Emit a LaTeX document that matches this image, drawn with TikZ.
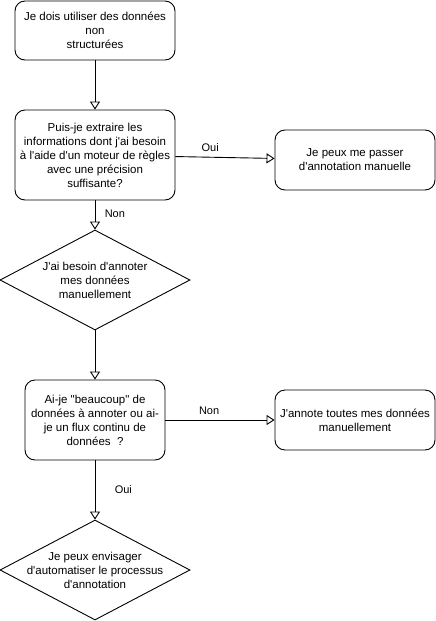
\documentclass[tikz,border=0pt]{standalone}
\usepackage{fontspec}
\newfontfamily\lib{Liberation Sans}
\usetikzlibrary{shapes.geometric,arrows.meta}
\begin{document}
\begin{tikzpicture}[x=1pt,y=-1pt,
  every node/.style={font=\lib\fontsize{11.5}{14}\selectfont},
  box/.style={draw,line width=0.9pt,rounded corners=10pt,align=center,inner sep=0pt},
  dia/.style={draw,line width=0.9pt,diamond,inner sep=0pt,minimum width=190pt,minimum height=100pt,aspect=1.9},
  lbl/.style={font=\lib\fontsize{11}{13}\selectfont},
  arr/.style={line width=0.9pt,-{Triangle[open,length=8pt,width=10pt]}}]
\useasboundingbox (0,0) rectangle (436,621);
\node[box,minimum width=160pt,minimum height=59pt] (b1) at (95,30.5) {Je dois utiliser des données\\non\\structurées};
\node[box,minimum width=160pt,minimum height=90pt] (b2) at (95,155) {Puis-je extraire les\\informations dont j'ai besoin\\à l'aide d'un moteur de règles\\avec une précision\\suffisante?};
\node[box,minimum width=160pt,minimum height=60pt] (r1) at (355,160) {Je peux me passer\\d'annotation manuelle};
\node[dia] (d1) at (95,280) {};
\node[align=center] (t1) at (d1.center) {J'ai besoin d'annoter\\mes données\\manuellement};
\node[box,minimum width=140pt,minimum height=80pt] (b3) at (95,420) {Ai-je "beaucoup" de\\données à annoter ou ai-\\je un flux continu de\\données \ ?};
\node[box,minimum width=160pt,minimum height=60pt] (r2) at (355,420) {J'annote toutes mes données\\manuellement};
\node[dia] (d2) at (95,570) {};
\node[align=center] (t2) at (d2.center) {Je peux envisager\\d'automatiser le processus\\d'annotation};
\draw[arr] (b1) -- (b2);
\draw[arr] (b2) -- node[lbl,pos=0.35,above=2pt] {Oui} (r1);
\draw[arr] (b2) -- node[lbl,pos=0.45,right=6pt] {Non} (d1.north);
\draw[arr] (d1.south) -- (b3);
\draw[arr] (b3) -- node[lbl,pos=0.4,above=2pt] {Non} (r2);
\draw[arr] (b3) -- node[lbl,pos=0.5,right=16pt] {Oui} (d2.north);
\end{tikzpicture}
\end{document}
